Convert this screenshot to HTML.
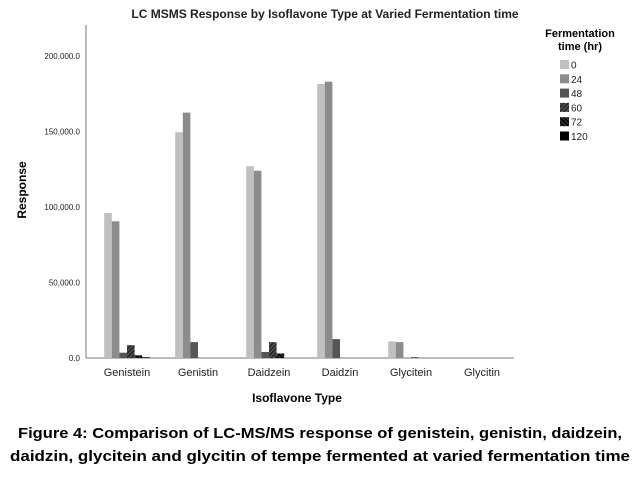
<!DOCTYPE html>
<html><head><meta charset="utf-8"><style>
body{margin:0;background:#fff;width:643px;height:474px;overflow:hidden;font-family:"Liberation Sans",sans-serif}
</style></head><body>
<svg width="643" height="474" xmlns="http://www.w3.org/2000/svg">
<defs>
<pattern id="h60" width="3" height="3" patternUnits="userSpaceOnUse" patternTransform="rotate(45)"><rect width="3" height="3" fill="#555"/><rect width="1.5" height="3" fill="#222"/></pattern>
<pattern id="h72" width="3" height="3" patternUnits="userSpaceOnUse" patternTransform="rotate(-45)"><rect width="3" height="3" fill="#333"/><rect width="1.5" height="3" fill="#000"/></pattern>
</defs>
<text x="325" y="18" text-anchor="middle" font-size="12" font-weight="bold" fill="#222">LC MSMS Response by Isoflavone Type at Varied Fermentation time</text>
<g id="axes"></g>
<g id="bars"></g>
<g id="legend"></g>
<text x="26" y="190" text-anchor="middle" font-size="12" font-weight="bold" transform="rotate(-90 26 190)">Response</text>
<text x="297" y="402" text-anchor="middle" font-size="12" font-weight="bold">Isoflavone Type</text>
<text x="18" y="438" font-size="15" font-weight="bold" textLength="604" lengthAdjust="spacingAndGlyphs">Figure 4: Comparison of LC-MS/MS response of genistein, genistin, daidzein,</text>
<text x="10" y="461" font-size="15" font-weight="bold" textLength="620" lengthAdjust="spacingAndGlyphs">daidzin, glycitein and glycitin of tempe fermented at varied fermentation time</text>
</svg>
<script>
const categories=["Genistein","Genistin","Daidzein","Daidzin","Glycitein","Glycitin"];
const seriesNames=["0","24","48","60","72","120"];
const s0=[96000,149500,127000,181500,11000,0];
const s24=[90500,162500,124000,183000,10500,0];
const s48=[3500,10500,4000,12500,0,0];
const s60=[8500,0,10500,0,500,0];
const s72=[1800,0,3000,0,0,0];
const s120=[500,0,0,0,0,0];
const yTicks=[0,50000,100000,150000,200000];
const yTickLabels=["0.0","50,000.0","100,000.0","150,000.0","200,000.0"];
const series=[s0,s24,s48,s60,s72,s120];
const fills=["#c0c0c0","#8c8c8c","#555","url(#h60)","url(#h72)","#000"];
const NS="http://www.w3.org/2000/svg";
const x0=86,x1=514,yb=358,ppu=151/100000;
const y=v=>yb-v*ppu;
const cx=i=>127+i*71;
const bw=7.6;
function mk(tag,attrs,parent){const e=document.createElementNS(NS,tag);for(const k in attrs)e.setAttribute(k,attrs[k]);parent.appendChild(e);return e;}
const axes=document.getElementById('axes'),bars=document.getElementById('bars'),leg=document.getElementById('legend');
let a=mk('line',{x1:x0,y1:25,x2:x0,y2:yb,stroke:'#777','stroke-width':1},axes);


a=mk('line',{x1:x0,y1:yb,x2:x1,y2:yb,stroke:'#777','stroke-width':1},axes);


yTicks.forEach((t,i)=>{
 const tx=mk('text',{x:x0-6,y:y(t)+3,'text-anchor':'end','font-size':8,fill:'#222'},axes);
 tx.textContent=yTickLabels[i];
 
 
});
categories.forEach((c,i)=>{
 const tx=mk('text',{x:cx(i),y:376,'text-anchor':'middle','font-size':11,fill:'#222'},axes);
 tx.textContent=c;
 
 
 series.forEach((s,j)=>{
  const v=s[i]; if(v<=0)return;
  const r=mk('rect',{x:cx(i)-3*bw+j*bw,y:y(v),width:bw,height:yb-y(v),fill:fills[j]},bars);
  
  
 });
});
let lt=mk('text',{x:580,y:37,'text-anchor':'middle','font-size':11,'font-weight':'bold'},leg);
lt.textContent='Fermentation';


lt=mk('text',{x:580,y:50,'text-anchor':'middle','font-size':11,'font-weight':'bold'},leg);
lt.textContent='time (hr)';


seriesNames.forEach((n,j)=>{
 const yy=64+j*14.3;
 const r=mk('rect',{x:560,y:yy-4,width:9,height:9,fill:fills[j]},leg);
 
 
 const t=mk('text',{x:571,y:yy+4.5,'font-size':10,fill:'#222'},leg);
 t.textContent=n;
 
 
});
</script>
</body></html>
